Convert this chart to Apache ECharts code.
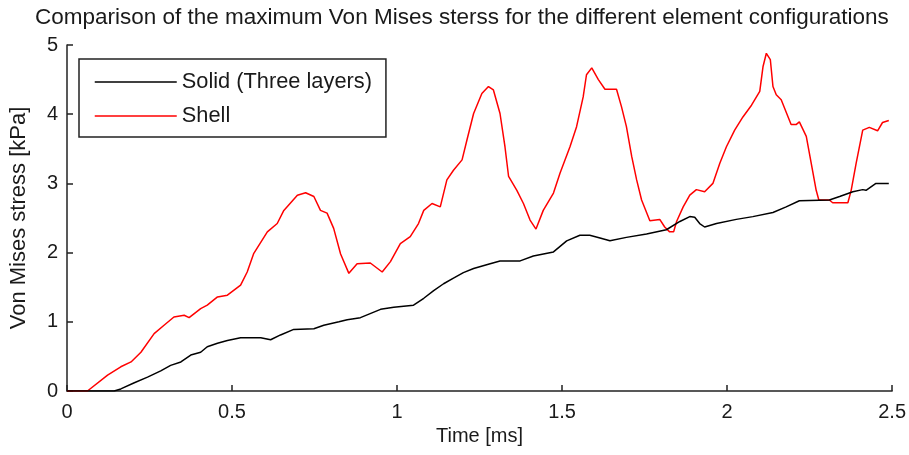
<!DOCTYPE html>
<html>
<head>
<meta charset="utf-8">
<script src="https://cdn.jsdelivr.net/npm/echarts@6/dist/echarts.min.js"></script>
<style>
  html, body { margin: 0; padding: 0; background: #fff; }
  #chart { width: 909px; height: 455px; }
</style>
</head>
<body>
<div id="chart"></div>
<script>
// Time in ms, stress in kPa
const solidTime = [0, 0.143, 0.163, 0.204, 0.244, 0.284, 0.314, 0.345, 0.375, 0.405,
  0.425, 0.456, 0.486, 0.526, 0.587, 0.617, 0.647, 0.687, 0.748, 0.778,
  0.824, 0.849, 0.889, 0.950, 0.990, 1.050, 1.081, 1.111, 1.141, 1.171,
  1.201, 1.232, 1.282, 1.312, 1.373, 1.413, 1.474, 1.514, 1.554, 1.584,
  1.615, 1.645, 1.695, 1.756, 1.816, 1.857, 1.887, 1.902, 1.917, 1.932,
  1.968, 2.028, 2.078, 2.139, 2.179, 2.219, 2.310, 2.341, 2.381, 2.411,
  2.421, 2.451, 2.490];
const solidStress = [0, 0, 0.03, 0.12, 0.20, 0.29, 0.37, 0.42, 0.52, 0.56,
  0.64, 0.69, 0.73, 0.77, 0.77, 0.74, 0.81, 0.89, 0.90, 0.95,
  1.00, 1.03, 1.06, 1.18, 1.21, 1.24, 1.34, 1.45, 1.55, 1.63,
  1.71, 1.77, 1.84, 1.88, 1.88, 1.95, 2.01, 2.17, 2.25, 2.25,
  2.21, 2.17, 2.22, 2.27, 2.33, 2.45, 2.52, 2.51, 2.42, 2.37,
  2.42, 2.48, 2.52, 2.58, 2.66, 2.75, 2.76, 2.81, 2.88, 2.91,
  2.90, 3.00, 3.00];

const shellTime = [0, 0.062, 0.123, 0.163, 0.194, 0.224, 0.264, 0.294, 0.324, 0.355,
  0.370, 0.405, 0.425, 0.456, 0.486, 0.526, 0.546, 0.566, 0.607, 0.637,
  0.657, 0.698, 0.723, 0.748, 0.768, 0.788, 0.808, 0.829, 0.854, 0.879,
  0.919, 0.955, 0.980, 1.010, 1.040, 1.065, 1.081, 1.106, 1.131, 1.151,
  1.171, 1.197, 1.212, 1.232, 1.257, 1.277, 1.292, 1.312, 1.327, 1.338,
  1.363, 1.383, 1.403, 1.421, 1.443, 1.474, 1.494, 1.524, 1.544, 1.564,
  1.574, 1.590, 1.610, 1.630, 1.665, 1.680, 1.695, 1.711, 1.726, 1.741,
  1.766, 1.796, 1.811, 1.826, 1.838, 1.847, 1.867, 1.887, 1.907, 1.932,
  1.957, 1.978, 1.998, 2.023, 2.048, 2.074, 2.099, 2.109, 2.119, 2.131,
  2.139, 2.149, 2.164, 2.194, 2.209, 2.219, 2.240, 2.255, 2.270, 2.278,
  2.310, 2.320, 2.366, 2.376, 2.391, 2.411, 2.431, 2.456, 2.471, 2.490];
const shellStress = [0, 0, 0.23, 0.35, 0.42, 0.56, 0.83, 0.95, 1.07, 1.095,
  1.06, 1.19, 1.24, 1.36, 1.385, 1.53, 1.72, 1.99, 2.30, 2.42,
  2.61, 2.83, 2.865, 2.81, 2.61, 2.57, 2.35, 1.98, 1.70, 1.84,
  1.85, 1.72, 1.87, 2.13, 2.23, 2.42, 2.61, 2.71, 2.66, 3.05,
  3.19, 3.34, 3.63, 4.01, 4.30, 4.40, 4.35, 4.01, 3.53, 3.10,
  2.90, 2.71, 2.47, 2.34, 2.61, 2.86, 3.15, 3.53, 3.82, 4.25,
  4.57, 4.67, 4.50, 4.36, 4.36, 4.11, 3.82, 3.39, 3.05, 2.76,
  2.46, 2.48, 2.37, 2.30, 2.30, 2.45, 2.66, 2.83, 2.91, 2.88,
  3.00, 3.29, 3.53, 3.77, 3.96, 4.13, 4.33, 4.69, 4.88, 4.79,
  4.40, 4.28, 4.21, 3.85, 3.85, 3.89, 3.68, 3.29, 2.90, 2.76,
  2.76, 2.72, 2.72, 2.90, 3.29, 3.77, 3.81, 3.76, 3.88, 3.91];

const seriesNames = ['Solid (Three layers)', 'Shell'];
const titleText = 'Comparison of the maximum Von Mises sterss for the different element configurations';
const xName = 'Time [ms]';
const yName = 'Von Mises stress [kPa]';

const pairs = (xs, ys) => xs.map((x, i) => [x, ys[i]]);

const FONT = '"Liberation Sans", Arial, Helvetica, sans-serif';
const TEXT_COLOR = '#1a1a1a';

const chart = echarts.init(document.getElementById('chart'), null, { renderer: 'canvas' });

const axisCommon = {
  type: 'value',
  axisLine: { show: true, onZero: false, lineStyle: { color: '#222', width: 1.5 } },
  axisTick: { show: true, inside: true, length: 6, lineStyle: { color: '#222', width: 1.5 } },
  splitLine: { show: false },
  axisLabel: { color: TEXT_COLOR, fontFamily: FONT, fontSize: 20 },
  nameLocation: 'middle',
  nameTextStyle: { color: TEXT_COLOR, fontFamily: FONT, fontSize: 20 }
};

chart.setOption({
  animation: false,
  backgroundColor: '#fff',
  title: {
    text: titleText,
    left: 35,
    top: 6,
    padding: 0,
    textStyle: { color: TEXT_COLOR, fontFamily: FONT, fontSize: 22.5, fontWeight: 'normal' }
  },
  grid: { left: 66, right: 16, top: 45, bottom: 64, containLabel: false },
  legend: {
    orient: 'vertical',
    left: 79,
    top: 59,
    padding: [12, 14, 10, 15],
    itemGap: 12,
    itemWidth: 82,
    itemHeight: 14,
    borderColor: '#222',
    borderWidth: 1.5,
    backgroundColor: '#fff',
    // line-only keys: hide the marker symbol, keep the stroke
    itemStyle: { opacity: 0 },
    lineStyle: { width: 1.5 },
    textStyle: { color: TEXT_COLOR, fontFamily: FONT, fontSize: 21.8, lineHeight: 22 },
    data: seriesNames
  },
  xAxis: Object.assign({}, axisCommon, {
    min: 0, max: 2.5, interval: 0.5,
    name: xName, nameGap: 35,
    axisLabel: Object.assign({}, axisCommon.axisLabel, { margin: 11 })
  }),
  yAxis: Object.assign({}, axisCommon, {
    min: 0, max: 5, interval: 1,
    name: yName, nameGap: 37,
    nameTextStyle: Object.assign({}, axisCommon.nameTextStyle, { fontSize: 22 }),
    axisLabel: Object.assign({}, axisCommon.axisLabel, { margin: 9 })
  }),
  series: [
    {
      name: seriesNames[0], type: 'line', symbol: 'none', smooth: false,
      lineStyle: { color: '#000', width: 1.5 }, itemStyle: { color: '#000' },
      data: pairs(solidTime, solidStress), z: 3
    },
    {
      name: seriesNames[1], type: 'line', symbol: 'none', smooth: false,
      lineStyle: { color: '#ff0000', width: 1.5 }, itemStyle: { color: '#ff0000' },
      data: pairs(shellTime, shellStress), z: 2
    }
  ]
});
</script>
</body>
</html>
